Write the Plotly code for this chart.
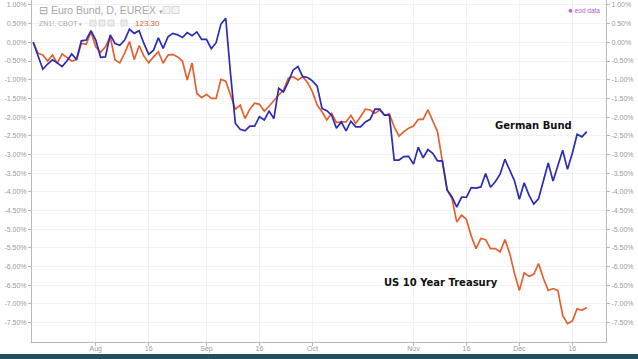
import plotly.graph_objects as go
import pandas as pd

# trading days (x categories)
dates = [d.strftime('%Y-%m-%d') for d in pd.bdate_range('2016-07-13', '2016-12-21')]

# German Bund (Euro Bund, EUREX) % change
bund = [0.00, -0.36, -0.72, -0.58, -0.47, -0.55, -0.65, -0.50, -0.31, -0.46,
        0.04, 0.06, 0.31, 0.06, -0.40, -0.39, 0.20, -0.03, -0.08, 0.06,
        0.35, 0.24, 0.31, -0.03, -0.32, -0.21, 0.12, -0.16, 0.15, 0.24,
        0.20, 0.13, 0.26, 0.18, 0.28, 0.08, 0.08, -0.17, -0.01, 0.49,
        0.64, -0.85, -2.17, -2.33, -2.37, -2.24, -2.24, -1.99, -2.08, -1.84,
        -2.04, -1.23, -1.33, -1.06, -0.74, -0.65, -0.92, -0.94, -1.03, -1.17,
        -1.77, -1.83, -1.95, -2.30, -2.13, -2.37, -2.11, -2.26, -2.26, -2.13,
        -2.06, -1.79, -1.79, -1.95, -1.95, -3.15, -3.15, -3.06, -3.05, -3.26,
        -2.81, -3.09, -2.87, -2.97, -3.17, -3.17, -3.95, -4.14, -4.41, -4.14,
        -4.15, -3.89, -3.90, -3.87, -3.51, -3.88, -3.73, -3.53, -3.13, -3.42,
        -3.71, -4.20, -3.76, -4.09, -4.33, -4.18, -3.69, -3.23, -3.71, -3.33,
        -2.89, -3.40, -2.97, -2.46, -2.53, -2.39]

# US 10 Year Treasury (ZN1!, CBOT) % change
treasury = [0.00, -0.29, -0.34, -0.50, -0.34, -0.56, -0.31, -0.40, -0.50, -0.47,
            -0.03, -0.05, 0.28, -0.12, -0.27, -0.12, 0.15, -0.47, -0.55, -0.29,
            0.02, -0.46, -0.09, -0.37, -0.55, -0.39, -0.25, -0.56, -0.34, -0.32,
            -0.39, -0.50, -1.01, -0.55, -1.37, -1.48, -1.39, -1.50, -1.50, -0.99,
            -1.04, -1.41, -1.79, -1.68, -2.04, -1.79, -1.63, -1.66, -1.84, -1.71,
            -1.55, -1.41, -1.28, -0.96, -0.92, -1.01, -0.92, -1.08, -1.32, -1.68,
            -1.86, -2.08, -1.90, -2.15, -2.13, -2.13, -1.95, -2.17, -1.99, -1.79,
            -1.81, -1.90, -1.81, -1.95, -1.92, -2.26, -2.51, -2.39, -2.30, -2.24,
            -2.06, -2.06, -1.81, -2.08, -2.39, -3.18, -3.96, -4.18, -4.81, -4.62,
            -4.74, -5.18, -5.52, -5.25, -5.28, -5.52, -5.52, -5.61, -5.28, -5.65,
            -6.19, -6.64, -6.17, -6.26, -6.21, -5.92, -6.32, -6.64, -6.59, -6.64,
            -7.31, -7.53, -7.46, -7.13, -7.17, -7.10]

tick_dates = ['2016-08-01', '2016-08-16', '2016-09-01', '2016-09-16', '2016-10-03',
              '2016-11-01', '2016-11-16', '2016-12-01', '2016-12-16']
tick_labels = ['Aug', '16', 'Sep', '16', 'Oct', 'Nov', '16', 'Dec', '16']

y_ticks = [1.0 - 0.5 * k for k in range(18)]
y_labels = [f"{v:.2f}%" for v in y_ticks]

BLUE = '#2b2bb5'
ORANGE = '#e4612d'
GRID = '#f1f1f4'
AXIS = '#b9b9b9'
TXT = '#9a9a9a'
FONT = 'Liberation Sans'

fig = go.Figure()
fig.add_trace(go.Scatter(x=dates, y=treasury, mode='lines', name='US 10 Year Treasury',
                         line=dict(color=ORANGE, width=1.7), yaxis='y'))
fig.add_trace(go.Scatter(x=dates, y=bund, mode='lines', name='German Bund',
                         line=dict(color=BLUE, width=1.7), yaxis='y2'))

yrange = [-8.02, 1.133]
yax = dict(range=yrange, tickvals=y_ticks, ticktext=y_labels, showgrid=True, gridcolor=GRID,
           gridwidth=1, zeroline=False, showline=True, linecolor=AXIS, linewidth=1,
           ticks='outside', ticklen=3, tickcolor=AXIS,
           tickfont=dict(family=FONT, size=7, color=TXT), fixedrange=True)

fig.update_layout(
    width=638, height=359,
    margin=dict(l=32, r=32, t=0, b=17),
    paper_bgcolor='white', plot_bgcolor='white',
    showlegend=False,
    xaxis=dict(type='category', range=[-0.25, 119.0], tickvals=tick_dates, ticktext=tick_labels,
               showgrid=True, gridcolor=GRID, showline=True, linecolor=AXIS, linewidth=1,
               ticks='outside', ticklen=3, tickcolor=AXIS, zeroline=False, ticklabelstandoff=-3,
               tickfont=dict(family=FONT, size=7, color=TXT)),
    yaxis=dict(side='left', **yax),
    yaxis2=dict(side='right', overlaying='y', **yax),
)

# series labels
fig.add_annotation(x=104, y=-2.22, xref='x', yref='y', text='<b>German Bund</b>', showarrow=False,
                   font=dict(family='DejaVu Sans', size=10, color='#111'))
fig.add_annotation(x=84.8, y=-6.42, xref='x', yref='y', text='<b>US 10 Year Treasury</b>', showarrow=False,
                   font=dict(family='DejaVu Sans', size=10, color='#111'))

def px(x):
    return (x - 32) / 574.0

def py(y):
    return (342.0 - y) / 342.0

# header legend
fig.add_annotation(x=px(37), y=py(10), xref='paper', yref='paper', xanchor='left', yanchor='middle',
                   text='⊟ Euro Bund, D, EUREX <span style="font-size:7px">▾</span>', showarrow=False,
                   font=dict(family=FONT, size=10.5, color='#a8a8a8'))
fig.add_annotation(x=px(37), y=py(23), xref='paper', yref='paper', xanchor='left', yanchor='middle',
                   text='ZN1!, CBOT <span style="font-size:5px">▾</span>', showarrow=False,
                   font=dict(family=FONT, size=7, color='#a8a8a8'))
fig.add_annotation(x=px(133), y=py(23), xref='paper', yref='paper', xanchor='left', yanchor='middle',
                   text='123.30', showarrow=False,
                   font=dict(family=FONT, size=8, color=ORANGE))
fig.add_annotation(x=px(566), y=py(10), xref='paper', yref='paper', xanchor='left', yanchor='middle',
                   text='<span style="font-size:8px">●</span> eod data', showarrow=False,
                   font=dict(family=FONT, size=6.5, color='#b060cc'))

# bottom frame band (dark strip under the chart)
fig.add_annotation(x=0.5, y=py(359.5), xref='paper', yref='paper', xanchor='center', yanchor='bottom',
                   text=' ', showarrow=False, width=700, height=5, borderpad=0, borderwidth=0,
                   bgcolor='#24505b', font=dict(size=2))

shapes = []
for x0 in (163, 172):
    shapes.append(dict(type='rect', xref='paper', yref='paper', x0=px(x0), x1=px(x0 + 7),
                       y0=py(13.5), y1=py(6.5), line=dict(color='#d8d8d8', width=1), fillcolor='#f4f4f4'))
for x0 in (90, 99, 108, 121):
    shapes.append(dict(type='rect', xref='paper', yref='paper', x0=px(x0), x1=px(x0 + 6),
                       y0=py(26), y1=py(20), line=dict(color='#d8d8d8', width=1), fillcolor='#ececec'))
fig.update_layout(shapes=shapes)

fig.write_html('out.html', config={'displayModeBar': False},
               post_script="document.body.style.margin='0';document.body.style.overflow='hidden';")
